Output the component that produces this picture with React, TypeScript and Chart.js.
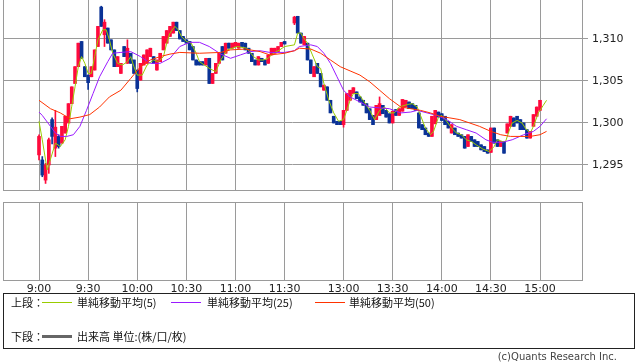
import { useEffect, useRef } from "react";
import { Chart, registerables } from "chart.js";
Chart.register(...registerables);

// x-axis tick labels (session time, lunch break compressed)
const tickTimes = ["9:00", "9:30", "10:00", "10:30", "11:00", "11:30", "13:00", "13:30", "14:00", "14:30", "15:00"];
const priceTicks = [1295, 1300, 1305, 1310];

// 2-minute candles [open, high, low, close], morning session from 9:00
const amCandles: number[][] = [
  [1296.2, 1298.6, 1295.6, 1298.4], [1295.6, 1296.0, 1293.6, 1293.8], [1293.2, 1295.2, 1292.8, 1295.0], [1295.0, 1298.2, 1294.0, 1298.0],
  [1300.4, 1300.6, 1297.5, 1298.4], [1297.0, 1301.5, 1296.0, 1299.5], [1298.4, 1298.6, 1297.0, 1297.2], [1297.6, 1299.6, 1297.6, 1299.6],
  [1298.8, 1300.8, 1298.8, 1300.8], [1300.0, 1302.3, 1300.0, 1302.3], [1302.3, 1304.3, 1302.3, 1304.3], [1304.7, 1306.7, 1304.7, 1306.7],
  [1306.7, 1309.5, 1306.7, 1309.5], [1309.7, 1309.7, 1307.7, 1307.7], [1306.7, 1306.7, 1305.5, 1305.5], [1305.7, 1305.7, 1304.0, 1304.8],
  [1305.5, 1306.7, 1305.5, 1306.7], [1306.3, 1308.7, 1306.3, 1308.7], [1309.1, 1311.5, 1309.1, 1311.5], [1313.8, 1313.9, 1311.5, 1311.5],
  [1310.5, 1312.3, 1309.1, 1312.0], [1311.3, 1311.3, 1309.5, 1309.5], [1309.9, 1309.9, 1308.7, 1308.7], [1308.7, 1308.7, 1306.7, 1306.7],
  [1306.7, 1307.9, 1306.7, 1307.9], [1305.9, 1307.1, 1305.9, 1307.1], [1309.1, 1309.1, 1307.9, 1307.9], [1307.1, 1309.9, 1307.1, 1308.9],
  [1308.3, 1308.3, 1307.1, 1307.1], [1307.5, 1307.5, 1305.9, 1305.9], [1306.3, 1306.3, 1303.7, 1304.1], [1305.1, 1307.1, 1305.1, 1307.1],
  [1306.9, 1308.1, 1306.9, 1308.1], [1307.1, 1308.7, 1307.1, 1308.7], [1307.9, 1308.9, 1307.9, 1308.9], [1307.9, 1307.9, 1307.1, 1307.1],
  [1306.3, 1307.5, 1306.3, 1307.5], [1307.3, 1308.3, 1307.3, 1308.3], [1308.7, 1310.3, 1308.7, 1310.3], [1309.5, 1311.0, 1309.5, 1311.0],
  [1310.3, 1311.5, 1310.3, 1311.5], [1310.7, 1312.0, 1310.7, 1312.0], [1312.0, 1312.0, 1311.0, 1311.0], [1311.0, 1311.0, 1310.0, 1310.0],
  [1310.3, 1310.3, 1309.7, 1309.7], [1309.9, 1309.9, 1309.5, 1309.5], [1309.7, 1309.7, 1308.7, 1308.7], [1309.1, 1309.1, 1307.5, 1307.5],
  [1307.5, 1307.5, 1306.9, 1306.9], [1307.3, 1307.3, 1306.9, 1306.9], [1307.3, 1307.3, 1306.9, 1306.9], [1306.9, 1307.7, 1306.9, 1307.7],
  [1307.7, 1307.7, 1304.7, 1304.7], [1304.7, 1305.9, 1304.7, 1305.9], [1305.9, 1307.1, 1305.9, 1307.1], [1307.1, 1308.3, 1307.1, 1308.3],
  [1309.1, 1309.1, 1307.5, 1307.5], [1308.3, 1309.5, 1308.3, 1309.5], [1309.5, 1309.5, 1308.9, 1308.9], [1308.9, 1309.5, 1308.9, 1309.5],
  [1309.1, 1309.6, 1309.1, 1309.6], [1308.9, 1309.5, 1308.9, 1309.5], [1309.6, 1309.6, 1309.1, 1309.1], [1309.5, 1309.5, 1308.7, 1308.7],
  [1308.9, 1308.9, 1308.3, 1308.3], [1308.3, 1308.3, 1307.3, 1307.3], [1307.5, 1307.5, 1306.9, 1306.9], [1306.9, 1307.9, 1306.9, 1307.9],
  [1307.7, 1307.7, 1307.3, 1307.3], [1307.5, 1307.5, 1306.9, 1306.9], [1307.1, 1308.1, 1307.1, 1308.1], [1308.1, 1308.9, 1308.1, 1308.9],
  [1308.3, 1308.9, 1308.3, 1308.9], [1308.5, 1309.1, 1308.5, 1309.1], [1309.1, 1309.6, 1309.1, 1309.6], [1309.7, 1309.7, 1309.4, 1309.4],
];

// 2-minute candles [open, high, low, close], afternoon session from 12:30
const pmCandles: number[][] = [
  [1311.9, 1312.7, 1311.7, 1312.6], [1312.7, 1312.7, 1310.7, 1310.7], [1310.7, 1310.7, 1309.5, 1309.5], [1309.3, 1310.3, 1309.3, 1310.3],
  [1309.5, 1309.5, 1307.5, 1307.5], [1307.5, 1307.5, 1305.9, 1305.9], [1305.5, 1306.7, 1305.5, 1306.7], [1307.1, 1307.1, 1305.9, 1305.9],
  [1305.9, 1305.9, 1304.3, 1304.3], [1303.9, 1304.5, 1303.9, 1304.5], [1304.3, 1304.3, 1302.7, 1302.7], [1302.7, 1302.7, 1301.2, 1301.2],
  [1300.8, 1300.8, 1300.0, 1300.0], [1300.2, 1300.2, 1299.8, 1299.8], [1300.2, 1300.2, 1299.8, 1299.8], [1299.8, 1301.5, 1299.5, 1301.5],
  [1301.5, 1303.5, 1301.5, 1303.5], [1302.7, 1303.9, 1302.7, 1303.9], [1303.5, 1304.2, 1303.5, 1304.2], [1303.7, 1303.7, 1302.9, 1302.9],
  [1303.1, 1303.1, 1302.5, 1302.5], [1302.7, 1302.7, 1302.1, 1302.1], [1302.3, 1302.3, 1301.2, 1301.2], [1301.7, 1301.7, 1300.4, 1300.4],
  [1300.9, 1300.9, 1299.8, 1299.8], [1300.4, 1302.1, 1300.4, 1302.1], [1300.9, 1303.1, 1300.9, 1302.3], [1302.1, 1302.1, 1301.1, 1301.1],
  [1301.5, 1301.5, 1300.7, 1300.7], [1301.1, 1301.1, 1300.0, 1300.0], [1300.0, 1301.4, 1300.0, 1301.4], [1301.6, 1301.6, 1300.9, 1300.9],
  [1300.9, 1301.7, 1300.9, 1301.7], [1301.4, 1302.8, 1301.4, 1302.8], [1301.9, 1302.7, 1301.9, 1302.7], [1302.5, 1302.5, 1301.7, 1301.7],
  [1302.3, 1302.3, 1301.7, 1301.7], [1302.1, 1302.1, 1301.5, 1301.5], [1301.2, 1301.2, 1299.4, 1299.4], [1299.8, 1299.8, 1299.2, 1299.2],
  [1299.4, 1299.4, 1298.6, 1298.6], [1298.8, 1298.8, 1298.4, 1298.4], [1298.4, 1300.8, 1298.4, 1300.8], [1299.9, 1301.5, 1299.9, 1301.5],
  [1301.3, 1301.3, 1300.7, 1300.7], [1301.1, 1301.1, 1300.3, 1300.3], [1300.8, 1300.8, 1299.8, 1299.8], [1300.2, 1300.2, 1299.4, 1299.4],
  [1298.8, 1299.8, 1298.8, 1299.8], [1299.4, 1299.4, 1298.6, 1298.6], [1298.8, 1298.8, 1298.4, 1298.4], [1298.6, 1298.6, 1298.2, 1298.2],
  [1298.4, 1298.4, 1297.0, 1297.0], [1297.2, 1298.6, 1297.2, 1298.6], [1298.4, 1298.4, 1297.8, 1297.8], [1298.0, 1298.0, 1297.2, 1297.2],
  [1297.8, 1297.8, 1297.2, 1297.2], [1297.4, 1297.4, 1296.8, 1296.8], [1297.2, 1297.2, 1296.6, 1296.6], [1296.8, 1296.8, 1296.4, 1296.4],
  [1296.5, 1299.4, 1296.5, 1299.4], [1299.4, 1299.4, 1297.6, 1297.6], [1298.0, 1298.0, 1297.2, 1297.2], [1297.2, 1297.8, 1297.2, 1297.8],
  [1297.8, 1297.8, 1296.4, 1296.4], [1298.8, 1299.9, 1298.8, 1299.9], [1299.6, 1300.8, 1299.6, 1300.8], [1300.6, 1300.6, 1299.6, 1299.6],
  [1300.8, 1300.8, 1300.0, 1300.0], [1300.4, 1300.4, 1299.2, 1299.2], [1300.0, 1300.0, 1299.2, 1299.2], [1299.2, 1299.2, 1298.2, 1298.2],
  [1298.2, 1299.0, 1298.2, 1299.0], [1299.6, 1301.0, 1299.6, 1301.0], [1300.8, 1301.9, 1300.8, 1301.9], [1301.5, 1302.7, 1301.5, 1302.7],
];

// 単純移動平均(5)
const ma5: [string, number][] = [
  ["9:00", 1300.2], ["9:02", 1298.0], ["9:05", 1294.4], ["9:10", 1297.6], ["9:13", 1297.2], ["9:16", 1298.0], ["9:18", 1299.6],
  ["9:20", 1302.0], ["9:22", 1304.3], ["9:24", 1306.7], ["9:26", 1307.9], ["9:28", 1307.1], ["9:30", 1305.9], ["9:32", 1305.9],
  ["9:34", 1307.9], ["9:36", 1309.9], ["9:39", 1311.1], ["9:41", 1311.1], ["9:43", 1309.9], ["9:45", 1308.3], ["9:48", 1307.1],
  ["9:51", 1306.9], ["9:54", 1307.3], ["9:56", 1307.9], ["9:58", 1306.7], ["10:00", 1305.7], ["10:03", 1305.7], ["10:06", 1306.9],
  ["10:10", 1307.5], ["10:13", 1307.3], ["10:16", 1307.9], ["10:18", 1309.5], ["10:20", 1310.7], ["10:23", 1311.5], ["10:25", 1311.1],
  ["10:27", 1310.3], ["10:30", 1309.7], ["10:33", 1309.5], ["10:36", 1308.3], ["10:38", 1307.3], ["10:41", 1306.9], ["10:44", 1306.5],
  ["10:48", 1306.1], ["10:51", 1307.5], ["10:55", 1308.7], ["11:01", 1309.1], ["11:07", 1308.9], ["11:11", 1307.9], ["11:14", 1307.5],
  ["11:17", 1307.5], ["11:20", 1307.7], ["11:23", 1308.3], ["11:27", 1308.7], ["11:30", 1309.1], ["12:30", 1309.3], ["12:32", 1310.7],
  ["12:34", 1310.7], ["12:35", 1310.3], ["12:38", 1309.5], ["12:41", 1308.1], ["12:44", 1306.7], ["12:46", 1306.5], ["12:48", 1304.7],
  ["12:51", 1302.7], ["12:54", 1301.2], ["12:57", 1300.2], ["13:00", 1300.4], ["13:02", 1301.5], ["13:04", 1302.7], ["13:06", 1303.5],
  ["13:09", 1303.5], ["13:12", 1302.7], ["13:16", 1301.5], ["13:19", 1300.4], ["13:22", 1301.5], ["13:25", 1301.9], ["13:28", 1301.2],
  ["13:31", 1301.2], ["13:34", 1301.9], ["13:39", 1302.2], ["13:42", 1302.3], ["13:45", 1301.9], ["13:47", 1300.9], ["13:50", 1299.4],
  ["13:53", 1298.6], ["13:55", 1299.0], ["13:58", 1300.7], ["14:00", 1300.9], ["14:03", 1300.2], ["14:06", 1299.4], ["14:09", 1298.8],
  ["14:12", 1298.6], ["14:15", 1298.0], ["14:18", 1297.8], ["14:21", 1297.4], ["14:25", 1296.9], ["14:29", 1296.6], ["14:32", 1297.2],
  ["14:34", 1298.0], ["14:37", 1297.8], ["14:39", 1297.8], ["14:41", 1299.0], ["14:43", 1300.0], ["14:46", 1300.3], ["14:49", 1300.0],
  ["14:51", 1299.4], ["14:54", 1298.8], ["14:56", 1299.6], ["14:59", 1301.2], ["15:02", 1302.1], ["15:04", 1302.7],
];

// 単純移動平均(25)
const ma25: [string, number][] = [
  ["9:00", 1301.3], ["9:02", 1300.9], ["9:07", 1299.6], ["9:10", 1298.8], ["9:13", 1298.4], ["9:17", 1298.4], ["9:21", 1298.6],
  ["9:25", 1299.6], ["9:29", 1301.5], ["9:33", 1303.5], ["9:37", 1305.5], ["9:42", 1307.3], ["9:45", 1308.3], ["9:50", 1308.4],
  ["9:56", 1308.5], ["10:02", 1307.9], ["10:08", 1307.1], ["10:14", 1307.1], ["10:20", 1307.7], ["10:26", 1309.1], ["10:32", 1309.6],
  ["10:38", 1309.6], ["10:44", 1309.1], ["10:51", 1308.2], ["10:57", 1307.7], ["11:03", 1308.1], ["11:09", 1308.5], ["11:15", 1308.6],
  ["11:21", 1308.4], ["11:30", 1308.4], ["12:30", 1308.6], ["12:33", 1309.1], ["12:40", 1309.3], ["12:44", 1309.1], ["12:48", 1308.3],
  ["12:52", 1307.1], ["12:56", 1305.5], ["13:00", 1303.9], ["13:04", 1303.1], ["13:10", 1302.5], ["13:16", 1301.9], ["13:22", 1301.8],
  ["13:28", 1301.7], ["13:35", 1301.2], ["13:41", 1301.3], ["13:45", 1301.5], ["13:51", 1301.2], ["13:57", 1300.9], ["14:03", 1300.4],
  ["14:09", 1299.6], ["14:15", 1299.2], ["14:21", 1298.8], ["14:27", 1298.0], ["14:31", 1297.7], ["14:37", 1297.7], ["14:43", 1298.0],
  ["14:50", 1298.6], ["14:56", 1299.0], ["15:00", 1299.6], ["15:04", 1300.5],
];

// 単純移動平均(50)
const ma50: [string, number][] = [
  ["9:00", 1302.7], ["9:07", 1301.7], ["9:13", 1301.2], ["9:19", 1300.5], ["9:25", 1300.7], ["9:31", 1301.0], ["9:37", 1301.9],
  ["9:43", 1303.1], ["9:50", 1303.9], ["9:56", 1305.3], ["10:02", 1306.7], ["10:08", 1307.5], ["10:14", 1307.9], ["10:20", 1308.2],
  ["10:26", 1308.4], ["10:38", 1308.3], ["10:51", 1308.4], ["10:57", 1308.7], ["11:06", 1308.8], ["11:15", 1308.5], ["11:21", 1308.1],
  ["11:30", 1308.3], ["12:30", 1308.6], ["12:33", 1308.9], ["12:40", 1308.8], ["12:46", 1308.3], ["12:52", 1307.5], ["12:58", 1306.7],
  ["13:04", 1306.2], ["13:10", 1305.7], ["13:16", 1304.9], ["13:22", 1303.9], ["13:28", 1302.9], ["13:35", 1301.9], ["13:41", 1301.7],
  ["13:47", 1301.5], ["13:53", 1301.2], ["13:59", 1300.8], ["14:05", 1300.6], ["14:11", 1300.4], ["14:17", 1300.0], ["14:23", 1299.6],
  ["14:30", 1299.0], ["14:36", 1298.6], ["14:42", 1298.4], ["14:48", 1298.4], ["14:54", 1298.4], ["15:00", 1298.6], ["15:04", 1299.0],
];

// 出来高 (lower panel, empty in the reference)
const volumes: { x: number; y: number }[] = [];

const UP = "#ff0a3c";
const DOWN = "#0a3296";
const GRID = "#9a9a9a";
const X_MIN = -21.99;
const X_MAX = 331.64;
const Y_MIN = 1292.02;
const Y_MAX = 1314.64;

function timeToX(t: string): number {
  const [h, m] = t.split(":").map(Number);
  const mins = h * 60 + m;
  return mins <= 11 * 60 + 30 ? mins - 9 * 60 : 156 + (mins - (12 * 60 + 30));
}

const tickXs = tickTimes.map(timeToX);

const candles = [
  ...amCandles.map((c, k) => ({ x: 2 * k, c })),
  ...pmCandles.map((c, k) => ({ x: 156 + 2 * k, c })),
];

const frame = (sides: "all" | "left") => ({
  id: "frame" + sides,
  afterDraw(chart: any) {
    const { ctx, chartArea: a } = chart;
    ctx.save();
    ctx.strokeStyle = GRID;
    ctx.lineWidth = 1;
    if (sides === "all") {
      ctx.strokeRect(Math.round(a.left) + 0.5, Math.round(a.top) + 0.5, Math.round(a.right - a.left), Math.round(a.bottom - a.top));
    } else {
      ctx.beginPath();
      ctx.moveTo(Math.round(a.left) + 0.5, a.top);
      ctx.lineTo(Math.round(a.left) + 0.5, a.bottom);
      ctx.stroke();
    }
    ctx.restore();
  },
});

const fontTick = { family: "DejaVu Sans", size: 11 };

export default function App() {
  const topRef = useRef<HTMLCanvasElement>(null);
  const botRef = useRef<HTMLCanvasElement>(null);

  useEffect(() => {
    const maLine = (label: string, pts: [string, number][], color: string) => ({
      type: "line" as const,
      label,
      data: pts.map(([t, v]) => ({ x: timeToX(t), y: v })),
      borderColor: color,
      borderWidth: 1,
      pointRadius: 0,
      tension: 0,
      order: 0,
    });
    const noPadY = (w: number) => (s: any) => { s.width = w; s.paddingTop = 0; s.paddingBottom = 0; };
    const top = new Chart(topRef.current!, {
      type: "bar",
      data: {
        datasets: [
          {
            label: "wick",
            data: candles.map(({ x, c }) => ({ x, y: [c[2], c[1]] })) as any,
            backgroundColor: candles.map(({ c }) => (c[3] >= c[0] ? UP : DOWN)),
            barThickness: 1,
            grouped: false,
            order: 2,
          },
          {
            label: "body",
            data: candles.map(({ x, c }) => ({ x, y: [Math.min(c[0], c[3]), Math.max(c[0], c[3])] })) as any,
            backgroundColor: candles.map(({ c }) => (c[3] >= c[0] ? UP : DOWN)),
            barThickness: 3,
            minBarLength: 1,
            grouped: false,
            order: 1,
          },
          maLine("単純移動平均(50)", ma50, "#ff3300"),
          maLine("単純移動平均(25)", ma25, "#9a1aff"),
          maLine("単純移動平均(5)", ma5, "#99cc00"),
        ] as any,
      },
      options: {
        animation: false,
        responsive: false,
        devicePixelRatio: 1,
        layout: { padding: { left: 3, top: 0, right: 0, bottom: 0 } },
        plugins: { legend: { display: false }, tooltip: { enabled: false } },
        scales: {
          x: {
            type: "linear",
            min: X_MIN,
            max: X_MAX,
            offset: false,
            afterBuildTicks: (s: any) => { s.ticks = tickXs.map((v) => ({ value: v })); },
            afterFit: (s: any) => { s.height = 1; s.paddingLeft = 0; s.paddingRight = 0; },
            ticks: { display: false },
            grid: { color: GRID, offset: false, drawTicks: false },
            border: { color: GRID },
          },
          y: {
            position: "right",
            min: Y_MIN,
            max: Y_MAX,
            beginAtZero: false,
            afterBuildTicks: (s: any) => { s.ticks = priceTicks.map((v) => ({ value: v })); },
            afterFit: noPadY(56),
            ticks: { font: fontTick, color: "#222", padding: 4, callback: (v: any) => Number(v).toLocaleString("en-US") },
            grid: { color: GRID, tickLength: 6 },
            border: { color: GRID },
          },
        },
      },
      plugins: [frame("left")],
    });

    const bot = new Chart(botRef.current!, {
      type: "bar",
      data: { datasets: [{ label: "出来高", data: volumes as any, backgroundColor: "#666" }] },
      options: {
        animation: false,
        responsive: false,
        devicePixelRatio: 1,
        layout: { padding: { left: 3, top: 2, right: 0, bottom: 0 } },
        plugins: { legend: { display: false }, tooltip: { enabled: false } },
        scales: {
          x: {
            type: "linear",
            min: X_MIN,
            max: X_MAX,
            offset: false,
            afterBuildTicks: (s: any) => { s.ticks = tickXs.map((v) => ({ value: v })); },
            afterFit: (s: any) => { s.height = 17; s.paddingLeft = 0; s.paddingRight = 0; },
            ticks: {
              font: fontTick,
              color: "#222",
              padding: 3,
              maxRotation: 0,
              autoSkip: false,
              callback: (v: any) => tickTimes[tickXs.indexOf(Number(v))] ?? "",
            },
            grid: { color: GRID, offset: false, drawTicks: false },
            border: { color: GRID },
          },
          y: {
            position: "right",
            min: 0,
            max: 1,
            afterFit: noPadY(56),
            ticks: { display: false },
            grid: { display: false, drawTicks: false },
            border: { color: GRID },
          },
        },
      },
      plugins: [frame("all")],
    });
    return () => { top.destroy(); bot.destroy(); };
  }, []);

  const cjk = '"Noto Sans CJK JP", "DejaVu Sans", sans-serif';
  const txt = (left: number, top: number, s: string) => (
    <div style={{ position: "absolute", left, top, font: `11px ${cjk}`, color: "#111", whiteSpace: "nowrap", lineHeight: "14px" }}>{s}</div>
  );
  const seg = (left: number, top: number, width: number, h: number, color: string) => (
    <div style={{ position: "absolute", left, top, width, height: h, background: color }} />
  );

  return (
    <div style={{ position: "fixed", left: 0, top: 0, width: 638, height: 362, background: "#fff", overflow: "hidden" }}>
      <canvas ref={topRef} width={638} height={191} style={{ position: "absolute", left: 0, top: 0 }} />
      <canvas ref={botRef} width={638} height={97} style={{ position: "absolute", left: 0, top: 200 }} />
      <div style={{ position: "absolute", left: 3, top: 293, width: 632, height: 56, border: "1px solid #222", boxSizing: "border-box" }} />
      {txt(11, 295, "上段：")}
      {seg(42, 302, 30, 1, "#99cc00")}
      {txt(77, 295, "単純移動平均(5)")}
      {seg(171, 302, 30, 1, "#9a1aff")}
      {txt(207, 295, "単純移動平均(25)")}
      {seg(315, 302, 30, 1, "#ff3300")}
      {txt(349, 295, "単純移動平均(50)")}
      {txt(11, 329, "下段：")}
      {seg(42, 335, 30, 3, "#666")}
      {txt(77, 329, "出来高 単位:(株/口/枚)")}
      <div style={{ position: "absolute", right: 21, top: 350, font: '10px "DejaVu Sans", sans-serif', color: "#444", whiteSpace: "nowrap", lineHeight: "14px" }}>(c)Quants Research Inc.</div>
    </div>
  );
}
